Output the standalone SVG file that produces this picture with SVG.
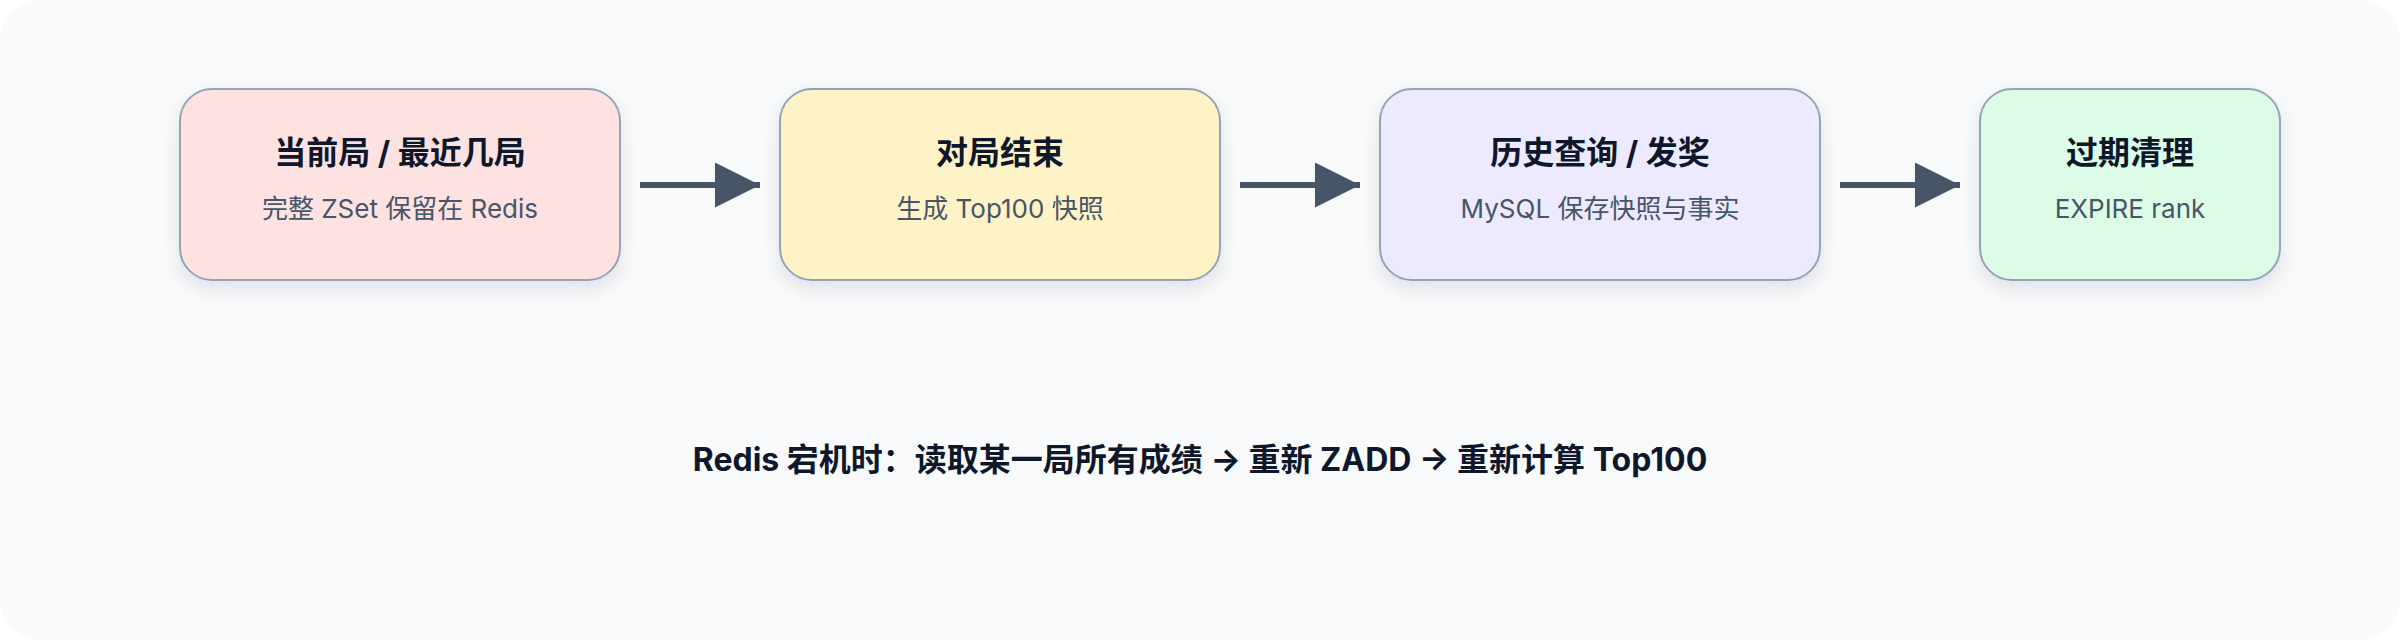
<svg xmlns="http://www.w3.org/2000/svg" width="2400" height="640" viewBox="0 0 2400 640">
  <style>
    .box { stroke: #94a3b8; stroke-width: 2; filter: url(#shadow); }
    .title { font-family: Inter, "Noto Sans CJK SC", sans-serif; font-size: 32px; font-weight: 700; fill: #0f172a; text-anchor: middle; }
    .sub { font-family: Inter, "Noto Sans CJK SC", sans-serif; font-size: 26px; font-weight: 400; fill: #475569; text-anchor: middle; }
    .note { font-family: Inter, "Noto Sans CJK SC", sans-serif; font-size: 32px; font-weight: 700; fill: #0f172a; text-anchor: middle; }
    .edge { stroke: #475569; stroke-width: 6; fill: none; marker-end: url(#arrow); }
  </style>
  <defs>
    <filter id="shadow" x="-20%" y="-20%" width="140%" height="150%">
      <feDropShadow dx="0" dy="8" stdDeviation="10" flood-color="#0f172a" flood-opacity="0.10"/>
    </filter>
    <marker id="arrow" viewBox="0 0 10 10" refX="10" refY="5" markerWidth="7.5" markerHeight="7.5" markerUnits="strokeWidth" orient="auto">
      <path d="M0,0 L10,5 L0,10 Z" fill="#475569"/>
    </marker>
  </defs>
  <rect x="0" y="0" width="2400" height="640" fill="#ffffff"/>
  <rect x="0" y="0" width="2400" height="640" rx="40" ry="40" fill="#f8fafc"/>

  <g id="connectors">
    <line class="edge" x1="640" y1="185" x2="760" y2="185"/>
    <line class="edge" x1="1240" y1="185" x2="1360" y2="185"/>
    <line class="edge" x1="1840" y1="185" x2="1960" y2="185"/>
  </g>

  <g id="node-current">
    <rect class="box" x="180" y="89" width="440" height="191" rx="32" ry="32" fill="#fee2e2"/>
    <text class="title" x="400" y="164">当前局 / 最近几局</text>
    <text class="sub" x="400" y="218">完整 ZSet 保留在 Redis</text>
  </g>
  <g id="node-end">
    <rect class="box" x="780" y="89" width="440" height="191" rx="32" ry="32" fill="#fef3c7"/>
    <text class="title" x="1000" y="164">对局结束</text>
    <text class="sub" x="1000" y="218">生成 Top100 快照</text>
  </g>
  <g id="node-history">
    <rect class="box" x="1380" y="89" width="440" height="191" rx="32" ry="32" fill="#ede9fe"/>
    <text class="title" x="1600" y="164">历史查询 / 发奖</text>
    <text class="sub" x="1600" y="218">MySQL 保存快照与事实</text>
  </g>
  <g id="node-expire">
    <rect class="box" x="1980" y="89" width="300" height="191" rx="32" ry="32" fill="#dcfce7"/>
    <text class="title" x="2130" y="164">过期清理</text>
    <text class="sub" x="2130" y="218">EXPIRE rank</text>
  </g>

  <g id="note">
    <text class="note" x="1200" y="471">Redis 宕机时：读取某一局所有成绩 → 重新 ZADD → 重新计算 Top100</text>
  </g>
</svg>
